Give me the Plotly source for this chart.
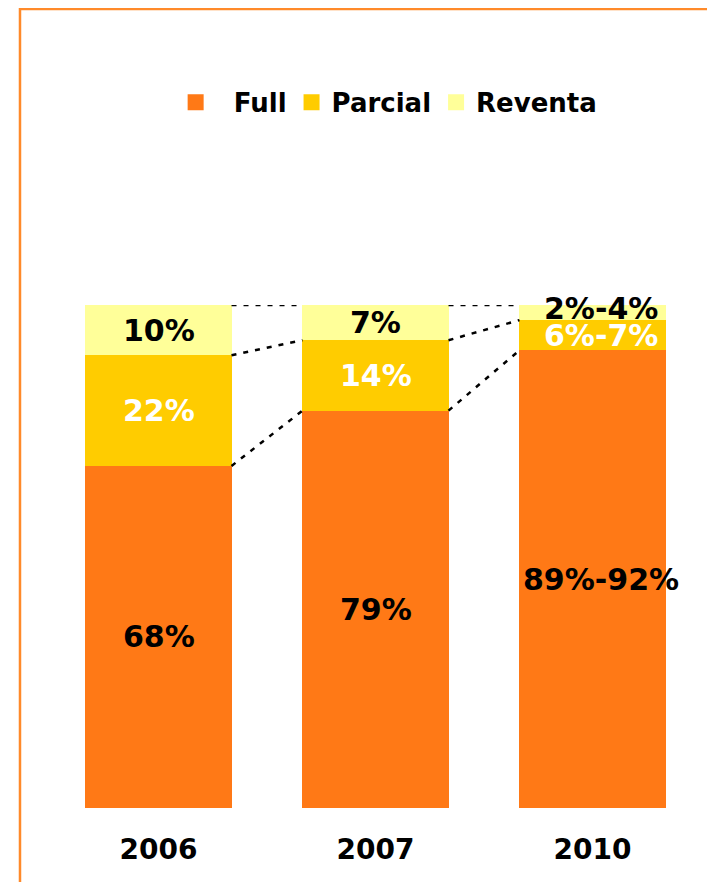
import plotly.graph_objects as go

years = ["2006", "2007", "2010"]
full = [68, 79, 91]
parcial = [22, 14, 6]
reventa = [10, 7, 3]
full_labels = ["68%", "79%", "89%-92%"]
parcial_labels = ["22%", "14%", "6%-7%"]
reventa_labels = ["10%", "7%", "2%-4%"]

c_full = "#FF7916"
c_parcial = "#FFCC00"
c_reventa = "#FFFF99"
font = "Verdana, DejaVu Sans, sans-serif"
bar_w = 0.673

xs = list(range(len(years)))
fig = go.Figure()

# stacked bars
for vals, col, name in [(full, c_full, "Full"), (parcial, c_parcial, "Parcial"),
                        (reventa, c_reventa, "Reventa")]:
    fig.add_trace(go.Bar(x=xs, y=vals, marker=dict(color=col, line=dict(width=0)),
                         width=bar_w, name=name, showlegend=False))

# cumulative boundaries
b1 = full
b2 = [f + p for f, p in zip(full, parcial)]
b3 = [f + p + r for f, p, r in zip(full, parcial, reventa)]

# dotted connectors between bars
for bnd in [b1, b2, b3]:
    for i in range(len(xs) - 1):
        fig.add_trace(go.Scatter(
            x=[xs[i] + bar_w / 2, xs[i + 1] - bar_w / 2], y=[bnd[i], bnd[i + 1]],
            mode="lines", line=dict(color="black", width=2.5, dash="5px,7px"),
            showlegend=False, hoverinfo="skip"))

# segment labels
mid_full = [v / 2 for v in full]
mid_parcial = [f + p / 2 for f, p in zip(full, parcial)]
mid_reventa = [a + r / 2 for a, r in zip(b2, reventa)]
for mids, labels, col in [(mid_full, full_labels, "black"),
                          (mid_parcial, parcial_labels, "white"),
                          (mid_reventa, reventa_labels, "black")]:
    for i in xs:
        fig.add_annotation(x=xs[i], y=mids[i], text="<b>%s</b>" % labels[i],
                           showarrow=False, xshift=8 if i == 2 else 0,
                           yshift=4 if (i == 2 and labels is reventa_labels) else 0,
                           font=dict(family=font, size=30, color=col))

# legend entries
for col, name in [(c_full, "&nbsp;&nbsp;Full"), (c_parcial, "Parcial"), (c_reventa, "Reventa")]:
    fig.add_trace(go.Scatter(x=[None], y=[None], mode="markers", name="<b>%s</b>" % name,
                             marker=dict(symbol="square", size=20, color=col)))

# orange frame
fig.add_shape(type="path", xref="paper", yref="paper",
              path="M -0.0461,-0.2 L -0.0461,1.5885 L 1.1,1.5885",
              line=dict(color="#FF8A2A", width=2.5))

fig.update_layout(
    width=715, height=882,
    margin=dict(l=42, r=22, t=297, b=82),
    barmode="stack",
    plot_bgcolor="white", paper_bgcolor="white",
    legend=dict(orientation="h", x=0.193, xanchor="left", y=1.403, yanchor="middle",
                traceorder="normal",
                font=dict(family=font, size=26, color="black"),
                itemsizing="trace", bgcolor="rgba(0,0,0,0)"),
)
fig.update_xaxes(range=[-0.5, 2.5], tickvals=xs, ticktext=["<b>%s</b>" % y for y in years],
                 showgrid=False, zeroline=False, showline=False, ticks="",
                 ticklabelstandoff=22,
                 tickfont=dict(family=font, size=28, color="black"))
fig.update_yaxes(range=[0, 100], visible=False, showgrid=False, zeroline=False)

fig.write_html("out.html")
